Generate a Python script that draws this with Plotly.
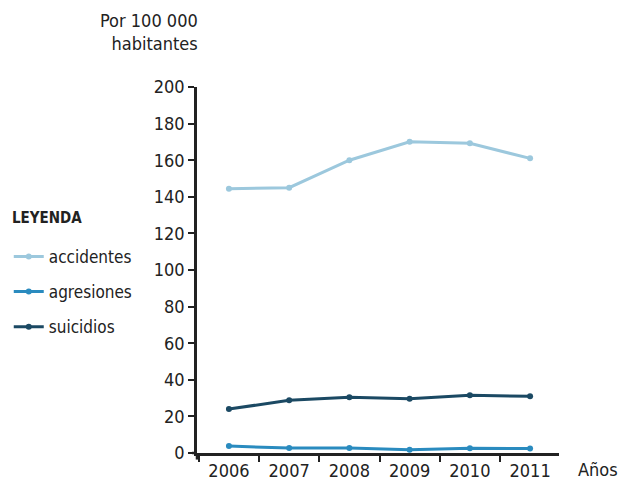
import plotly.graph_objects as go

# Tasas por 100 000 habitantes, por año
anios = ["2006", "2007", "2008", "2009", "2010", "2011"]
accidentes = [144.4, 145.0, 160.0, 170.1, 169.2, 161.0]
agresiones = [3.8, 2.7, 2.7, 1.8, 2.6, 2.4]
suicidios = [24.0, 28.8, 30.4, 29.7, 31.5, 31.0]

series = [
    ("accidentes", accidentes, "#9cc8dd"),
    ("agresiones", agresiones, "#2a8bbf"),
    ("suicidios", suicidios, "#1b4963"),
]

FONT = "DejaVu Sans Condensed, sans-serif"
INK = "#222222"

fig = go.Figure()
for i, (name, vals, color) in enumerate(series):
    fig.add_trace(go.Scatter(
        x=anios, y=vals, name=name, mode="lines+markers",
        line=dict(color=color, width=3),
        marker=dict(color=color, size=6),
        legendgroup=str(i),
    ))

fig.update_layout(
    width=619, height=480,
    margin=dict(l=197, r=60, t=87, b=27, autoexpand=False),
    paper_bgcolor="white", plot_bgcolor="white",
    font=dict(family=FONT, size=18, color=INK),
    showlegend=True,
    legend=dict(
        x=-0.52, xanchor="left", y=0.585, yanchor="top",
        font=dict(size=17), tracegroupgap=10,
        traceorder="grouped", itemwidth=30,
        bgcolor="rgba(0,0,0,0)",
    ),
    xaxis=dict(
        type="category", range=[-0.53, 5.48], automargin=False,
        showline=True, linecolor=INK, linewidth=2.5,
        ticks="outside", tickson="boundaries", ticklen=6,
        tickwidth=2, tickcolor=INK, showgrid=False, zeroline=False,
    ),
    yaxis=dict(
        range=[0, 200], tickvals=list(range(0, 201, 20)), automargin=False,
        showline=True, linecolor=INK, linewidth=2.5,
        ticks="outside", ticklen=6, tickwidth=2, tickcolor=INK,
        showgrid=False, zeroline=False,
    ),
)

# axis lines cross slightly past the origin
fig.add_shape(type="line", xref="x domain", yref="y domain",
              x0=0, x1=0, y0=0, y1=-0.018, line=dict(color=INK, width=2.5))
fig.add_shape(type="line", xref="x domain", yref="y domain",
              x0=-0.014, x1=0, y0=0, y1=0, line=dict(color=INK, width=2.5))

fig.add_annotation(text="<b>LEYENDA</b>", xref="paper", yref="paper",
                   x=-0.517, y=0.643, xanchor="left", yanchor="middle",
                   showarrow=False, font=dict(size=15, color=INK))
fig.add_annotation(text="Por 100 000<br>habitantes", xref="paper", yref="paper",
                   x=0, y=1.215, xanchor="right", yanchor="top", align="right",
                   xshift=3, showarrow=False, font=dict(size=18, color=INK))
fig.add_annotation(text="Años", xref="paper", yref="paper",
                   x=1.048, y=-0.046, xanchor="left", yanchor="middle",
                   showarrow=False, font=dict(size=18, color=INK))

fig.write_html("out.html")
